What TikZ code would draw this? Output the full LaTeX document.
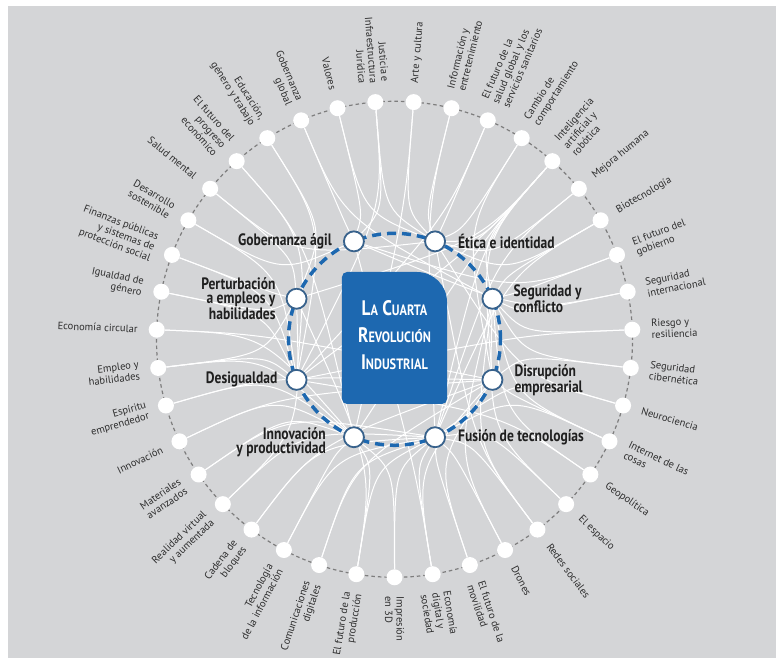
\documentclass[tikz,border=0pt]{standalone}
\usepackage{fontspec}
\setmainfont{PT Sans}
\newfontfamily\condfont[FakeStretch=0.82]{PT Sans}
\usetikzlibrary{positioning,calc}
\definecolor{gris}{RGB}{212,213,215}
\definecolor{azul}{RGB}{29,104,176}
\definecolor{aro}{RGB}{56,98,140}
\definecolor{trazo}{RGB}{125,125,125}
\definecolor{texto}{RGB}{45,45,45}
\pgfdeclarelayer{fondo}
\pgfdeclarelayer{enlaces}
\pgfsetlayers{fondo,enlaces,main}
\newcommand\versal[1]{{\fontsize{15}{15}\selectfont #1}}
\tikzset{
  punto/.style={circle, fill=white, minimum size=16pt, inner sep=0pt},
  tema/.style={circle, fill=white, draw=aro, line width=1.8pt, minimum size=20pt, inner sep=0pt},
  etiq/.style={font=\fontsize{10.5}{11.5}\selectfont, text=texto, inner sep=0pt},
  clave/.style={font=\condfont\bfseries\fontsize{16.5}{14.5}\selectfont, text=black!88, inner sep=0pt},
  enlace/.style={white, line width=1pt},
}
\begin{document}
\begin{tikzpicture}[x=1pt,y=1pt]
\useasboundingbox (-394.5,-318.7) rectangle (381.5,339.3);
\begin{pgfonlayer}{fondo}
  \fill[gris] (-386.5,-318.7) rectangle (381.5,333.3);
\end{pgfonlayer}
\coordinate (c) at (0,0);

% temas externos
\foreach \lab [count=\i from 0] in {Justicia e\\Infraestructura\\Jurídica, Arte y cultura, Información y\\entretenimiento, El futuro de la\\salud global y los\\servicios sanitarios, Cambio de\\comportamiento, Inteligencia\\artificial y\\robótica, Mejora humana, Biotecnología, El futuro del\\gobierno, Seguridad\\internacional, Riesgo y\\resiliencia, Seguridad\\cibernética, Neurociencia, Internet de las\\cosas, Geopolítica, El espacio, Redes sociales, Drones, El futuro de la\\movilidad, Economía\\digital y\\sociedad, Impresión\\en 3D, El futuro de la\\producción, Comunicaciones\\digitales, Tecnología\\de la información, Cadena de\\bloques, Realidad virtual\\y aumentada, Materiales\\avanzados, Innovación, Espíritu\\emprendedor, Empleo y\\habilidades, Economía circular, Igualdad de\\género, Finanzas públicas\\y sistemas de\\protección social, Desarrollo\\sostenible, Salud mental, El futuro del\\progreso\\económico, {Educación,\\género y trabajo}, Gobernanza\\global, Valores}{
  \pgfmathsetmacro\ang{94.615-\i*360/39}
  \pgfmathsetmacro\cosa{cos(\ang)}
  \node[punto] (o\i) at (\ang:238) {};
  \ifdim\cosa pt>-0.01pt
    \node[etiq, rotate=\ang, anchor=west, align=left] (l\i) at (\ang:257) {\lab};
  \else
    \pgfmathsetmacro\rot{\ang+180}
    \node[etiq, rotate=\rot, anchor=east, align=right] (l\i) at (\ang:257) {\lab};
  \fi
}

% anillo y temas clave
\draw[azul, line width=3.5pt, dash pattern=on 9pt off 6pt] (c) circle[radius=106];
\node[tema] (gob) at (112.5:106) {};
\node[tema] (etica) at (67.5:106) {};
\node[tema] (seg) at (22.5:106) {};
\node[tema] (disr) at (-22.5:106) {};
\node[tema] (fus) at (-67.5:106) {};
\node[tema] (innov) at (-112.5:106) {};
\node[tema] (desig) at (-157.5:106) {};
\node[tema] (pert) at (157.5:106) {};

\node[clave, left=11pt of gob] (tgob) {Gobernanza ágil};
\node[clave, right=12pt of etica] (tetica) {Ética e identidad};
\node[clave, right=10pt of seg, align=left] (tseg) {Seguridad y\\conflicto};
\node[clave, right=11pt of disr, align=left] (tdisr) {Disrupción\\empresarial};
\node[clave, right=12pt of fus] (tfus) {Fusión de tecnologías};
\node[clave, left=17pt of innov, align=right, yshift=-5pt] (tinnov) {Innovación\\y productividad};
\node[clave, left=8pt of desig] (tdesig) {Desigualdad};
\node[clave, left=10pt of pert, align=right] (tpert) {Perturbación\\a empleos y\\habilidades};

% caja central
\fill[azul] (-47.5,-64.7) -- (47.5,-64.7) arc[start angle=-90, end angle=0, radius=5]
  -- (52.5,37.3) arc[start angle=0, end angle=90, radius=30]
  -- (-47.5,67.3) arc[start angle=90, end angle=180, radius=5]
  -- (-52.5,-59.7) arc[start angle=180, end angle=270, radius=5] -- cycle;
\node[font=\condfont\bfseries\fontsize{21}{27}\selectfont, text=white, align=center] (titulo) at (0,4)
  {L\versal{A} C\versal{UARTA}\\R\versal{EVOLUCIÓN}\\I\versal{NDUSTRIAL}};

\begin{pgfonlayer}{enlaces}
  \draw[trazo, line width=1.2pt, dash pattern=on 3.5pt off 3pt] (c) circle[radius=238];
  \foreach \a/\b in {0/gob, 0/etica, 0/desig, 1/etica, 1/innov, 2/etica, 2/fus, 3/etica, 3/desig,
    4/etica, 4/disr, 5/etica, 5/seg, 5/disr, 5/fus, 5/innov, 5/pert, 5/desig, 6/etica, 6/fus,
    7/etica, 7/seg, 7/fus, 8/gob, 8/seg, 9/seg, 9/gob, 10/seg, 10/desig, 11/seg, 11/disr,
    12/fus, 12/etica, 13/fus, 13/disr, 13/seg, 14/seg, 14/desig, 15/fus, 15/seg, 16/seg, 16/etica, 16/fus,
    17/fus, 17/seg, 18/fus, 18/disr, 19/fus, 19/disr, 19/gob, 20/fus, 20/innov, 21/innov, 21/fus, 21/pert,
    22/fus, 22/disr, 23/fus, 23/innov, 24/fus, 24/disr, 25/fus, 25/pert, 26/fus, 26/innov,
    27/innov, 27/disr, 28/innov, 28/disr, 29/pert, 29/desig, 29/innov, 30/disr, 30/innov,
    31/desig, 31/pert, 32/desig, 32/pert, 33/desig, 33/gob, 34/pert, 34/etica, 35/desig, 35/innov,
    36/pert, 36/desig, 37/gob, 37/seg, 38/etica, 38/gob}
    \draw[enlace] (o\a) .. controls ($(o\a)!0.45!(c)$) .. (\b);
\end{pgfonlayer}
\end{tikzpicture}
\end{document}
